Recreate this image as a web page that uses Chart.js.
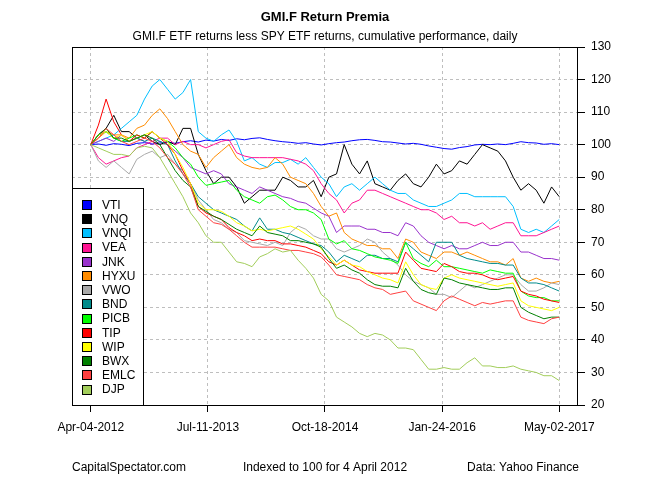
<!DOCTYPE html>
<html>
<head>
<meta charset="utf-8">
<title>GMI.F Return Premia</title>
<script src="https://cdn.jsdelivr.net/npm/chart.js@4/dist/chart.umd.min.js"></script>
<style>
    body { margin: 0; background: #fff; }
    canvas { display: block; }
</style>
</head>
<body>
<canvas id="premia" width="650" height="480"></canvas>
<script>
// Monthly readings (month 0 = Apr 2012 ... month 61 = May 2017), indexed to 100
const tickPositions = [0, 15.25, 30.5, 45.75, 61];
const tickLabels = ['Apr-04-2012', 'Jul-11-2013', 'Oct-18-2014', 'Jan-24-2016', 'May-02-2017'];

const names = ['VTI', 'VNQ', 'VNQI', 'VEA', 'JNK', 'HYXU', 'VWO', 'BND', 'PICB', 'TIP', 'WIP', 'BWX', 'EMLC', 'DJP'];
const colors = ['#0000FF', '#000000', '#00BFFF', '#FF1493', '#9932CC', '#FF8C00', '#A9A9A9',
    '#008B8B', '#00FF00', '#FF0000', '#FFFF00', '#008000', '#FF4040', '#A2CD5A'];

const vti = [100, 100.2, 99.8, 100.3, 100.1, 99.7, 100.4, 100.6, 100.2, 100.5,
    100.8, 100.4, 100.9, 101.2, 100.8, 101.4, 101.1, 101.6, 101.3, 101.8,
    101.5, 101.9, 102.1, 101.6, 101.2, 100.9, 100.7, 100.4, 100.6, 100.2,
    99.9, 100.3, 100.6, 100.8, 101.2, 101.5, 101.6, 101.3, 100.9, 100.8,
    100.5, 100.2, 100.4, 100.1, 99.6, 99.2, 98.8, 98.6, 99.1, 99.4,
    99.9, 100.1, 100.0, 100.2, 100.0, 100.4, 100.9, 100.6, 100.5, 100.1,
    100.3, 100.0];
const vnq = [100, 103, 105, 109, 104, 104, 102, 103, 101, 100, 101, 100, 105, 105,
    97, 92, 88, 90, 90, 87, 82, 84, 86, 86, 86, 90, 89, 87, 87, 89, 84, 90,
    91, 100, 94, 91, 95, 88, 87, 86, 89, 91, 88, 87, 90, 94, 91, 92, 95, 94,
    97, 100, 99, 98, 95, 90, 86, 88, 86, 82, 87, 84];
const vnqi = [100, 101, 102, 103, 105, 107, 109, 114, 118, 120, 117, 114, 116, 120,
    104, 102, 101, 103, 104.5, 101, 95, 96, 94, 93, 94.5, 94.5, 95.5, 94, 96, 93, 90, 88,
    84, 87, 88, 86, 88, 90, 88, 86, 85, 85, 83, 82, 81, 81, 82, 83, 85, 85,
    84, 84, 84, 84, 84, 81, 74, 73, 74, 73, 75, 77];
const vea = [100, 96, 94, 95, 96, 96.5, 99, 100, 101, 102, 102, 100, 101, 100,
    100, 99, 100, 101, 101.5, 97.5, 96.5, 96, 96, 96, 96, 96, 95.5, 95, 94, 92, 88, 85,
    83, 79, 82, 83, 86, 86, 85, 84, 83, 82, 81, 80, 80, 79, 77, 78, 76, 76,
    75, 76, 74, 75, 76, 76, 72, 72, 72, 73, 74, 75];
const jnk = [100, 101, 102, 101, 103, 101, 102, 101, 100, 101, 100, 98, 96, 93,
    92, 91, 92, 91, 88, 87, 86, 85, 87, 86, 85, 84, 83.5, 82.5, 82, 80.5, 79, 78,
    73, 75, 75, 75, 74, 74, 73, 73, 72, 76, 75, 72, 70, 69, 68, 69, 68, 68,
    69, 70, 69, 69, 70, 70, 67, 67, 66, 65, 65, 64.5];
const hyxu = [100, 102, 104, 103, 103, 102, 105, 106, 109, 111, 108, 104, 100, 98,
    97, 93, 96, 98, 100, 96, 94, 93, 92.5, 93, 96, 94, 90, 89, 88, 85, 81, 78,
    79, 73, 71, 70, 69, 69, 68, 68, 65, 71, 70, 67, 66, 65, 67, 67, 66, 67,
    66, 65, 64, 64, 63, 65, 59, 58, 59, 58, 57.5, 58];
const vwo = [100, 95, 93, 95, 93, 91, 95.5, 97, 98, 96, 97, 94, 92, 88,
    83, 80, 77, 76, 74, 73, 70.5, 70, 69.5, 69, 70, 69, 73, 75, 74, 72, 71, 71,
    68, 67, 68, 69, 71, 70, 67, 65, 63, 60, 58, 57, 56, 54, 54, 53, 55, 57,
    56, 57, 58, 59, 60, 60, 57, 55, 55, 56, 57.5, 57];
const bnd = [100, 103, 104, 102, 101, 101, 102, 101, 102, 101, 100, 95, 91, 88,
    84, 82, 80, 79, 78, 77, 75, 73.5, 77.5, 74, 74, 73, 72.5, 71.5, 70.5, 69.5, 69, 67,
    64, 66, 65, 64, 66, 66, 65, 65, 64, 70, 68, 66, 64, 70, 70, 70, 66, 65,
    64.5, 64, 63.5, 63.5, 63, 63, 59, 57.5, 57.5, 57, 56, 55];
const picb = [100, 103, 104, 102, 101, 102, 103, 102, 104, 102, 101, 99, 96, 94,
    90, 87.5, 88, 88.5, 89, 86, 84, 83, 82, 84, 84.5, 83, 81, 80, 80, 79, 77, 71,
    69.5, 70.5, 68, 67.5, 66.5, 65.5, 65, 64.5, 63.5, 70, 65, 63.5, 62.5, 64.5, 62.5, 62.5, 62, 61.5,
    61, 60.5, 61.5, 61, 60.5, 60.5, 55, 53.5, 53, 53, 52, 52];
const tip = [100, 106, 114, 107, 103, 101, 103, 102, 104, 102, 100, 97, 92, 88,
    81, 79, 78, 77, 74.5, 73, 72, 70.5, 71, 70.5, 70.5, 69.5, 69.5, 69, 68.5, 67.5, 66.5, 64,
    63, 64.5, 63, 61.5, 61, 60.5, 60.5, 60.5, 60.5, 67, 64.5, 62, 61.5, 61, 63.5, 62.5, 61, 60.5,
    60.5, 60, 59, 58.5, 59, 59.5, 55, 54, 53.5, 52.5, 52, 51.5];
const wip = [100, 103, 104, 102, 103, 101, 102, 103, 104, 102, 101, 97, 93, 88,
    82, 80, 80, 79.5, 78, 76, 75, 73.5, 74, 73.5, 74, 74.5, 75, 74, 72.5, 71, 68, 65.5,
    63, 64.5, 63, 62.5, 61, 60, 59, 58.5, 57.5, 64, 60, 57, 56, 55.5, 59, 60, 59, 58.5,
    58, 57.5, 57, 56.5, 57, 57.5, 52, 50.5, 50, 49.5, 49, 50];
const bwx = [100, 103, 105, 102, 102, 101, 102, 103, 102, 100, 96, 92, 89, 87,
    81, 79.5, 78, 77, 75.5, 74, 73, 72, 75, 73, 72.5, 72, 70.5, 70.5, 70, 69.5, 68.5, 65,
    62, 63, 61.5, 60.5, 58.5, 57, 56.5, 56.5, 56, 62, 58, 55.5, 54.5, 54, 59, 58.5, 57.5, 57,
    56.5, 56, 55.5, 55.5, 56, 56, 50, 48.5, 47.5, 46.5, 47, 47];
const emlc = [100, 102, 105, 103, 101, 100, 101, 102, 101, 99, 96, 94, 91, 87,
    80, 78, 76, 75.5, 74, 72, 70, 68.5, 68.5, 68.5, 68.5, 68, 67.5, 67.5, 67, 66.5, 65.5, 63,
    60, 59.5, 59, 58.5, 57, 56, 55.5, 54, 54.5, 55, 52, 51, 50, 49, 52, 53.5, 52.5, 51.5,
    50.5, 51.5, 51, 51.5, 52, 52, 47, 46, 45.5, 45, 46.5, 47];
const djp = [100, 99, 98, 97, 97, 96.5, 99, 99.5, 99, 96, 92, 88, 84, 79, 76,
    72, 70, 70, 67, 64, 63.5, 62.5, 65.5, 66.5, 68, 67, 67.5, 64.5, 62, 59, 54, 52,
    47, 45.5, 44, 42, 41, 42, 41.5, 40, 37.5, 37.5, 37, 34, 31, 31, 31.5, 31, 31, 33,
    34.5, 32, 32, 31.5, 31.5, 32, 31, 30.5, 30, 29, 29, 27.5];

const series = [vti, vnq, vnqi, vea, jnk, hyxu, vwo, bnd, picb, tip, wip, bwx, emlc, djp];

const FONT = '"Liberation Sans", Arial, sans-serif';
const lastMonth = tickPositions[tickPositions.length - 1];

let datasets = series.map(function (values, i) {
    return {
        label: names[i],
        data: values.map(function (v, m) { return {x: m, y: v}; }),
        borderColor: colors[i],
        backgroundColor: colors[i],
        borderWidth: 1,
        pointRadius: 0,
        tension: 0,
        fill: false,
        order: series.length - i
    };
});

// Titles, frame, boxed legend and footer notes
const decorations = {
    id: 'decorations',
    afterDatasetsDraw(chart) {
        const ctx = chart.ctx;
        const a = chart.chartArea;
        ctx.save();

        // plot frame
        ctx.strokeStyle = '#000';
        ctx.lineWidth = 1;
        ctx.strokeRect(a.left + 0.5, a.top + 0.5, a.right - a.left - 1, a.bottom - a.top);

        // legend box
        let lx = a.left, ly = 188, lw = 71, lh = a.bottom - ly;
        ctx.fillStyle = '#fff';
        ctx.fillRect(lx, ly, lw, lh);
        ctx.strokeRect(lx + 0.5, ly + 0.5, lw, lh);
        ctx.font = '12px ' + FONT;
        ctx.textBaseline = 'middle';
        ctx.textAlign = 'left';
        chart.data.datasets.forEach(function (ds, i) {
            let y = 205 + i * 14.2;
            ctx.fillStyle = ds.borderColor;
            ctx.fillRect(82, Math.round(y - 5), 9, 9);
            ctx.strokeStyle = '#000';
            ctx.strokeRect(82.5, Math.round(y - 5) + 0.5, 9, 9);
            ctx.fillStyle = '#000';
            ctx.fillText(ds.label, 102, y + 0.5);
        });

        // titles
        ctx.textAlign = 'center';
        ctx.fillStyle = '#000';
        ctx.font = 'bold 13px ' + FONT;
        ctx.fillText('GMI.F Return Premia', 325, 17);
        ctx.font = '12px ' + FONT;
        ctx.fillText('GMI.F ETF returns less SPY ETF returns, cumulative performance, daily', 325, 37);

        // footer
        ctx.fillText('CapitalSpectator.com', 129, 468);
        ctx.fillText('Indexed to 100 for 4 April 2012', 325, 468);
        ctx.fillText('Data: Yahoo Finance', 523, 468);
        ctx.restore();
    }
};

new Chart(document.getElementById('premia'), {
    type: 'line',
    data: {datasets: datasets},
    options: {
        responsive: false,
        animation: false,
        layout: {padding: {left: 72, top: 47, right: 0, bottom: 0}},
        plugins: {
            legend: {display: false},
            tooltip: {enabled: false},
            title: {display: false}
        },
        scales: {
            x: {
                type: 'linear',
                min: -0.04 * lastMonth,
                max: lastMonth * 1.04,
                afterBuildTicks: function (scale) {
                    scale.ticks = tickPositions.map(function (v) { return {value: v}; });
                },
                afterFit: function (scale) { scale.height = 75; },
                grid: {
                    color: '#BEBEBE',
                    tickColor: '#000',
                    tickLength: 7,
                    tickBorderDash: []
                },
                border: {display: false, dash: [3, 3]},
                ticks: {
                    autoSkip: false,
                    maxRotation: 0,
                    padding: 8,
                    color: '#000',
                    font: {family: FONT, size: 12},
                    callback: function (v, i) { return tickLabels[i]; }
                }
            },
            y: {
                position: 'right',
                min: 20,
                max: 130,
                afterFit: function (scale) { scale.width = 72; },
                grid: {
                    color: '#BEBEBE',
                    tickColor: '#000',
                    tickLength: 7,
                    tickBorderDash: []
                },
                border: {display: false, dash: [3, 3]},
                ticks: {
                    stepSize: 10,
                    padding: 6,
                    color: '#000',
                    font: {family: FONT, size: 12}
                }
            }
        }
    },
    plugins: [decorations]
});
</script>
</body>
</html>
